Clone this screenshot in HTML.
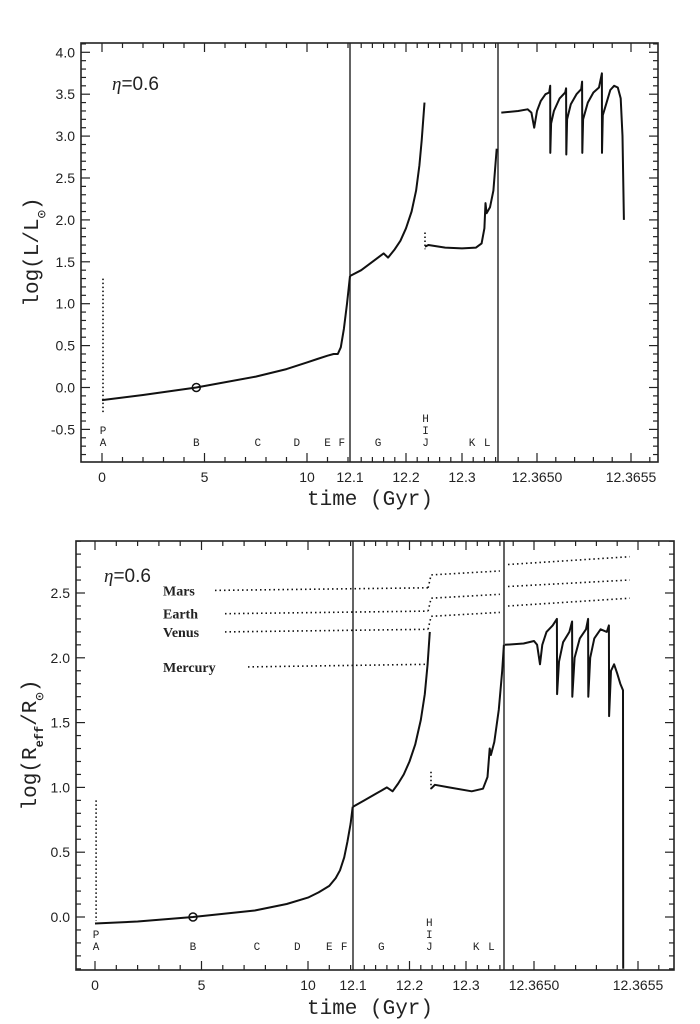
<!DOCTYPE html>
<html><head><meta charset="utf-8"><style>
html,body{margin:0;padding:0;background:#fff;}
svg{display:block;}
text{font-family:"Liberation Sans",sans-serif;fill:#222;}
.mono{font-family:"Liberation Mono",monospace;}
.serif{font-family:"Liberation Serif",serif;font-weight:bold;}
</style></head><body>
<svg id="fig" width="700" height="1024" viewBox="0 0 700 1024" xmlns="http://www.w3.org/2000/svg"></svg>
<script>
// ---------- Top chart data: log(L/Lsun) ----------
const lumP1Time = [0, 2, 4.6, 7.5, 9, 10, 10.5, 11, 11.3, 11.5, 11.65, 11.8, 11.95, 12.1];
const lumP1Val  = [-0.15, -0.09, 0.0, 0.13, 0.22, 0.3, 0.34, 0.38, 0.4, 0.4, 0.48, 0.7, 1.0, 1.33];
const lumP2aTime = [12.1, 12.12, 12.14, 12.16, 12.168, 12.18, 12.19, 12.2, 12.21, 12.218, 12.224, 12.228, 12.233];
const lumP2aVal  = [1.33, 1.4, 1.5, 1.6, 1.55, 1.65, 1.75, 1.9, 2.1, 2.35, 2.65, 2.95, 3.4];
const lumP2bTime = [12.234, 12.24, 12.27, 12.3, 12.325, 12.335, 12.34, 12.342, 12.344, 12.35, 12.356, 12.362];
const lumP2bVal  = [1.68, 1.7, 1.67, 1.66, 1.67, 1.72, 1.9, 2.2, 2.08, 2.15, 2.35, 2.85];
const lumP3U   = [-1.9, -1, -0.5, -0.3, -0.15, 0, 0.2, 0.45, 0.65, 0.7, 0.71, 0.75, 0.9, 1.2, 1.5, 1.55, 1.56, 1.6, 1.8, 2.1, 2.35, 2.4, 2.41, 2.45, 2.7, 3.0, 3.3, 3.45, 3.46, 3.5, 3.7, 3.9, 4.1, 4.3, 4.45, 4.55, 4.62];
const lumP3Val = [3.28, 3.3, 3.32, 3.28, 3.1, 3.3, 3.42, 3.5, 3.52, 3.6, 2.8, 3.15, 3.3, 3.45, 3.52, 3.57, 2.78, 3.2, 3.38, 3.5, 3.56, 3.65, 2.8, 3.2, 3.4, 3.52, 3.58, 3.75, 2.8, 3.25, 3.4, 3.55, 3.6, 3.58, 3.45, 3.0, 2.0];
const lumDotted = [1.3, -0.3];
const lumHBDotted = [1.85, 1.65];
const lumYTicks = [-0.5, 0.0, 0.5, 1.0, 1.5, 2.0, 2.5, 3.0, 3.5, 4.0];

// ---------- Bottom chart data: log(Reff/Rsun) ----------
const radP1Time = [0, 2, 4.6, 7.5, 9, 10, 10.5, 11, 11.3, 11.5, 11.7, 11.85, 12.0, 12.1];
const radP1Val  = [-0.05, -0.035, 0.0, 0.05, 0.1, 0.15, 0.19, 0.24, 0.3, 0.36, 0.46, 0.58, 0.72, 0.85];
const radP2aTime = [12.1, 12.12, 12.14, 12.16, 12.17, 12.18, 12.19, 12.2, 12.21, 12.22, 12.227, 12.232, 12.236];
const radP2aVal  = [0.85, 0.9, 0.95, 1.0, 0.97, 1.03, 1.1, 1.2, 1.33, 1.52, 1.72, 1.95, 2.2];
const radP2bTime = [12.238, 12.245, 12.27, 12.31, 12.33, 12.338, 12.342, 12.344, 12.35, 12.358, 12.364, 12.367];
const radP2bVal  = [0.99, 1.02, 1.0, 0.97, 0.99, 1.08, 1.3, 1.25, 1.35, 1.6, 1.9, 2.1];
const radP3U   = [-1.4, -0.5, 0, 0.15, 0.29, 0.4, 0.6, 0.9, 1.1, 1.11, 1.2, 1.4, 1.7, 1.83, 1.84, 1.95, 2.2, 2.5, 2.6, 2.61, 2.7, 2.9, 3.2, 3.5, 3.6, 3.61, 3.7, 3.85, 4.0, 4.15, 4.28, 4.29];
const radP3Val = [2.1, 2.11, 2.13, 2.1, 1.95, 2.1, 2.2, 2.25, 2.3, 1.72, 1.97, 2.12, 2.2, 2.28, 1.7, 2.0, 2.15, 2.22, 2.3, 1.7, 2.0, 2.15, 2.22, 2.2, 2.25, 1.55, 1.9, 1.95, 1.88, 1.8, 1.75, -0.4];
const radDotted = [0.9, -0.03];
const radHBDotted = [1.12, 0.98];
const radYTicks = [0.0, 0.5, 1.0, 1.5, 2.0, 2.5];
const planetNames = ["Mars", "Earth", "Venus", "Mercury"];
const planetP1Val = [2.52, 2.34, 2.2, 1.93];
const planetP2Val = [2.67, 2.49, 2.35, null];
const planetP3Start = [2.72, 2.55, 2.4, null];
const planetP3End = [2.78, 2.6, 2.46, null];

// ---------- shared ----------
const p1XTicks = [0, 5, 10];
const p2XTicks = [12.2, 12.3];
const p3XTicks = [0, 5];
const p3XLabels = ["12.3650", "12.3655"];
const phaseLetters = ["A","B","C","D","E","F","G","J","K","L"];
const phaseTimes = [0.05, 4.6, 7.6, 9.5, 11.0, 11.7, 12.15, 12.235, 12.318, 12.345];

const NS = "http://www.w3.org/2000/svg";
const svg = document.getElementById("fig");
function el(tag, attrs, parent) {
  const e = document.createElementNS(NS, tag);
  for (const k in attrs) e.setAttribute(k, attrs[k]);
  (parent || svg).appendChild(e);
  return e;
}

function drawChart(cfg) {
  const g = el("g", {});
  
  
  const y = v => cfg.y0 - (v * cfg.ySc);
  const x1 = t => cfg.x1o + t * cfg.x1k;
  const x2 = t => cfg.d1 + (t - 12.1) * cfg.x2k;
  const x3 = u => cfg.x3o + u * cfg.x3k;
  const L = cfg.L, R = cfg.R, T = cfg.T, B = cfg.B;
  const fr = el("rect", {x: L, y: T, width: R - L, height: B - T, fill: "none", stroke: "#222", "stroke-width": 1.6}, g);
  
  
  [cfg.d1, cfg.d2].forEach(d => {
    const dl = el("line", {x1: d, x2: d, y1: T, y2: B, stroke: "#222", "stroke-width": 1.4}, g);
    
    
  });
  for (let v = cfg.yMin; v <= cfg.yMax + 1e-9; v += 0.1) {
    const major = Math.abs(v * 2 - Math.round(v * 2)) < 1e-6;
    const len = major ? 9 : 5;
    const yy = y(v);
    if (yy < T || yy > B) continue;
    el("line", {x1: L, x2: L + len, y1: yy, y2: yy, stroke: "#222", "stroke-width": 1.2}, g);
    el("line", {x1: R, x2: R - len, y1: yy, y2: yy, stroke: "#222", "stroke-width": 1.2}, g);
  }
  cfg.yTicks.forEach(v => {
    const t = el("text", {x: L - 6, y: y(v) + 5, "text-anchor": "end", "font-size": 14}, g);
    
    
    t.textContent = v.toFixed(1);
  });
  function xt(xx, major) {
    const len = major ? 9 : 5;
    el("line", {x1: xx, x2: xx, y1: B, y2: B - len, stroke: "#222", "stroke-width": 1.2}, g);
    el("line", {x1: xx, x2: xx, y1: T, y2: T + len, stroke: "#222", "stroke-width": 1.2}, g);
  }
  for (let t = 0; t <= 12; t++) xt(x1(t), t % 5 === 0);
  for (let t = 12.12; t < 12.37; t += 0.02) { const xx = x2(t); if (xx < cfg.d2 - 2) xt(xx, Math.abs(t * 10 - Math.round(t * 10)) < 1e-6); }
  for (let u = -1; u * cfg.x3k + cfg.x3o < R - 2; u++) xt(x3(u), u % 5 === 0);
  const lab = (xx, s) => {
    const t = el("text", {x: xx, y: cfg.labY, "text-anchor": "middle", "font-size": 14}, g);
    
    
    t.textContent = s;
  };
  p1XTicks.forEach(t => lab(x1(t), String(t)));
  lab(cfg.d1, "12.1");
  p2XTicks.forEach(t => lab(x2(t), t.toFixed(1)));
  p3XTicks.forEach((u, i) => lab(x3(u), p3XLabels[i]));
  const xtl = el("text", {x: 370, y: cfg.xtY, "text-anchor": "middle", "font-size": 21, class: "mono"}, g);
  
  
  xtl.textContent = "time  (Gyr)";
  const ytl = el("text", {x: 0, y: 0, "text-anchor": "middle", "font-size": 21, class: "mono", transform: `translate(${cfg.ytX},${cfg.ytY}) rotate(-90)`}, g);
  
  
  ytl.innerHTML = cfg.ytitle;
  const eta = el("text", {x: cfg.etaX, y: cfg.etaY, "font-size": 19}, g);
  
  
  eta.innerHTML = '<tspan font-style="italic" font-family="Liberation Serif">η</tspan>=0.6';
  phaseLetters.forEach((c, i) => {
    const t = phaseTimes[i];
    const xx = t <= 12.1 ? x1(t) : x2(t);
    const tx = el("text", {x: xx, y: cfg.letY, "text-anchor": "middle", "font-size": 11, class: "mono"}, g);
    
    
    tx.textContent = c;
    if (c === "A" || c === "J") {
      const top = el("text", {x: xx, y: cfg.letY - (c === "A" ? 12 : 24), "text-anchor": "middle", "font-size": 11, class: "mono"}, g);
      
      
      top.textContent = c === "A" ? "P" : "H";
      if (c === "J") { const m = el("text", {x: xx, y: cfg.letY - 12, "text-anchor": "middle", "font-size": 11, class: "mono"}, g); m.textContent = "I"; }
    }
  });
  const path = (pts, name, dash) => {
    const p = el("path", {d: "M" + pts.map(p => p[0].toFixed(1) + "," + p[1].toFixed(1)).join("L"), fill: "none", stroke: "#111", "stroke-width": dash ? 1.6 : 2, "stroke-dasharray": dash || "none", "stroke-linejoin": "round"}, g);
    
    
  };
  path(cfg.p1t.map((t, i) => [x1(t), y(cfg.p1v[i])]), "curve-main-sequence");
  path(cfg.p2at.map((t, i) => [x2(t), y(cfg.p2av[i])]), "curve-red-giant-branch");
  path(cfg.p2bt.map((t, i) => [x2(t), y(cfg.p2bv[i])]), "curve-horizontal-branch");
  path(cfg.p3u.map((u, i) => [Math.max(cfg.d2, x3(u)), y(cfg.p3v[i])]), "curve-thermal-pulses");
  path([[x1(0.05), y(cfg.dot[0])], [x1(0.05), y(cfg.dot[1])]], "pre-main-sequence-dotted", "1.5,2.5");
  path([[x2(cfg.p2bt[0]), y(cfg.hbDot[0])], [x2(cfg.p2bt[0]), y(cfg.hbDot[1])]], "helium-flash-dotted", "1.5,2.5");
  const c = el("circle", {cx: x1(4.6), cy: y(cfg.p1v[2]), r: 4, fill: "none", stroke: "#111", "stroke-width": 1.5}, g);
  
  
  return {g, x1, x2, x3, y, path};
}

drawChart({name: "luminosity-chart", L: 81, R: 658, T: 43, B: 462, d1: 350, d2: 498,
  y0: 387.5, ySc: 83.8, yMin: -0.8, yMax: 4.1, yTicks: lumYTicks,
  x1o: 102, x1k: 20.5, x2k: 560, x3o: 537, x3k: 18.8,
  labY: 482, xtY: 505, ytX: 38, ytY: 252, letY: 446, etaX: 112, etaY: 90,
  ytitle: 'log(L/L<tspan baseline-shift="sub" font-size="14">⊙</tspan>)',
  p1t: lumP1Time, p1v: lumP1Val, p2at: lumP2aTime, p2av: lumP2aVal, p2bt: lumP2bTime, p2bv: lumP2bVal,
  p3u: lumP3U, p3v: lumP3Val, dot: lumDotted, hbDot: lumHBDotted});

const bc = drawChart({name: "radius-chart", L: 76, R: 674, T: 541, B: 970, d1: 353, d2: 504,
  y0: 917, ySc: 129.6, yMin: -0.4, yMax: 2.9, yTicks: radYTicks,
  x1o: 95, x1k: 21.3, x2k: 565, x3o: 534, x3k: 20.8,
  labY: 990, xtY: 1014, ytX: 36, ytY: 745, letY: 950, etaX: 104, etaY: 582,
  ytitle: 'log(R<tspan baseline-shift="sub" font-size="12" font-weight="bold">eff</tspan>/R<tspan baseline-shift="sub" font-size="14">⊙</tspan>)',
  p1t: radP1Time, p1v: radP1Val, p2at: radP2aTime, p2av: radP2aVal, p2bt: radP2bTime, p2bv: radP2bVal,
  p3u: radP3U, p3v: radP3Val, dot: radDotted, hbDot: radHBDotted});

const labelX = [163, 163, 163, 163];
const lineStartX = [215, 225, 225, 248];
planetNames.forEach((n, i) => {
  const yl = bc.y(planetP1Val[i]);
  const t = el("text", {x: labelX[i], y: yl + 5, "font-size": 14, class: "serif"}, bc.g);
  
  
  t.textContent = n;
  const endX = bc.x2(12.233);
  bc.path([[lineStartX[i], yl], [endX, bc.y(planetP1Val[i] + 0.02)]], "orbit-" + n.toLowerCase() + "-rgb", "1.5,3");
  if (planetP2Val[i] !== null) {
    bc.path([[endX, bc.y(planetP1Val[i] + 0.02)], [endX + 3, bc.y(planetP2Val[i] - 0.03)], [bc.x2(12.36), bc.y(planetP2Val[i])]], "orbit-" + n.toLowerCase() + "-hb", "1.5,3");
    bc.path([[508, bc.y(planetP3Start[i])], [bc.x3(4.6), bc.y(planetP3End[i])]], "orbit-" + n.toLowerCase() + "-agb", "1.5,3");
  }
});
</script>
</body></html>
